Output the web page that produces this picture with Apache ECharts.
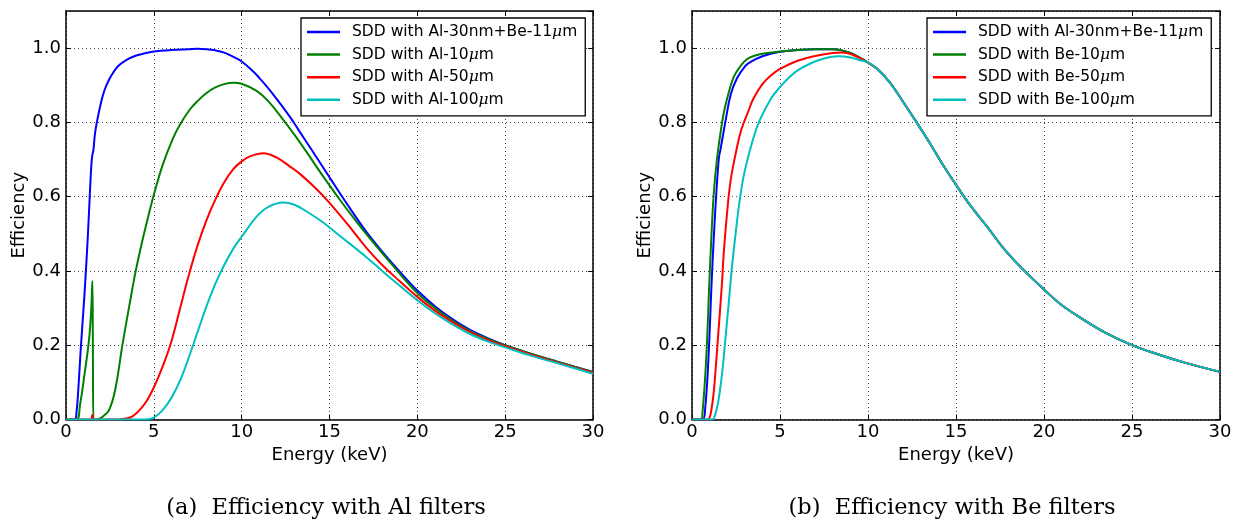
<!DOCTYPE html>
<html>
<head>
<meta charset="utf-8">
<script src="https://cdn.jsdelivr.net/npm/echarts@6/dist/echarts.min.js"></script>
<style>
html,body{margin:0;padding:0;background:#fff;}
#c{width:1239px;height:524px;}
</style>
</head>
<body>
<div id="c"></div>
<script>
// ---------- data ----------
const seriesNamesLeft = ['SDD with Al-30nm+Be-11μm','SDD with Al-10μm','SDD with Al-50μm','SDD with Al-100μm'];
const seriesNamesRight = ['SDD with Al-30nm+Be-11μm','SDD with Be-10μm','SDD with Be-50μm','SDD with Be-100μm'];
const xTicks = [0,5,10,15,20,25,30];
const yTicks = [0.0,0.2,0.4,0.6,0.8,1.0];
const captions = ['(a)  Efficiency with Al filters','(b)  Efficiency with Be filters'];

// Left panel
const leftBlueE = [0,0.5,0.6,0.7,0.84,1.0,1.12,1.25,1.35,1.45,1.5,1.56,1.65,1.78,2.0,2.2,2.45,2.7,3.0,3.43,4.0,4.5,5.0,6.0,7.0,7.5,8.0,8.5,9.0,9.5,10.0,10.66,11.0,11.8,12.75,13.3,14.0,15.0,16.0,17.1,18.0,19.0,20.0,21.0,22.0,23.0,24.0,25.0,26.0,27.0,28.0,29.0,30.0];
const leftBlueV = [0,0,0.02,0.08,0.19,0.30,0.39,0.50,0.60,0.69,0.712,0.725,0.77,0.806,0.855,0.888,0.915,0.935,0.953,0.968,0.98,0.986,0.991,0.995,0.997,0.998,0.997,0.994,0.988,0.977,0.964,0.937,0.92,0.875,0.815,0.775,0.725,0.652,0.58,0.505,0.452,0.398,0.347,0.305,0.27,0.241,0.219,0.2,0.184,0.169,0.155,0.141,0.128];

const leftGreenE = [0,0.6,0.8,1.06,1.31,1.44,1.5,1.53,1.56,1.7,1.9,2.1,2.45,2.8,3.21,3.6,3.97,4.35,4.7,5.0,5.5,6.09,6.5,7.04,7.5,8.0,8.5,9.0,9.52,10.0,10.85,11.5,12.37,13.0,13.7,14.5,15.6,16.5,17.5,18.5,20,21,22,23,24,25,26.5,28,30];
const leftGreenV = [0,0,0.04,0.124,0.214,0.30,0.373,0.2,0,0,0.002,0.008,0.025,0.08,0.2,0.305,0.4,0.482,0.55,0.605,0.685,0.757,0.795,0.834,0.858,0.879,0.894,0.903,0.907,0.904,0.885,0.858,0.807,0.767,0.72,0.664,0.591,0.535,0.476,0.42,0.34,0.3,0.266,0.238,0.217,0.199,0.176,0.155,0.127];

const leftRedE = [0,1.4,1.5,1.56,3.0,3.5,3.78,4.19,4.6,5.0,5.5,6.0,6.5,7.0,7.5,8.0,8.5,9.0,9.5,10.0,10.5,11.23,12.0,12.75,13.3,14.27,15.0,16.0,17.1,18.0,19.0,20.0,21.0,22.0,23.0,24.0,25.0,26.5,28.0,30.0];
const leftRedV = [0,0,0.012,0,0,0.003,0.008,0.025,0.05,0.086,0.142,0.21,0.30,0.39,0.47,0.537,0.592,0.638,0.673,0.695,0.709,0.717,0.705,0.681,0.662,0.62,0.583,0.527,0.462,0.416,0.372,0.33,0.293,0.262,0.235,0.214,0.197,0.174,0.153,0.126];

const leftCyanE = [0,4.5,5.0,5.5,6.0,6.5,7.0,7.5,8.0,8.5,9.0,9.5,10.0,10.85,11.5,12.37,13.0,13.7,14.5,15.0,15.6,17.1,18.0,19.0,20.0,21.0,22.0,23.0,24.0,25.0,26.5,28.0,30.0];
const leftCyanV = [0,0,0.005,0.025,0.058,0.105,0.168,0.237,0.305,0.365,0.415,0.458,0.492,0.546,0.572,0.584,0.578,0.56,0.535,0.517,0.494,0.437,0.4,0.36,0.321,0.286,0.256,0.23,0.21,0.194,0.171,0.151,0.123];

// Right panel (low-energy parts)
const rightBlueE = [0,0.6,0.75,0.93,1.12,1.25,1.37,1.5,1.56,1.6,1.89,2.2,2.55,3.0,3.31,4.0,5.0,6.0,7.0,8.0,8.5,9.0,9.5];
const rightBlueV = [0,0,0.03,0.16,0.374,0.5,0.6,0.69,0.715,0.722,0.80,0.875,0.918,0.95,0.962,0.978,0.99,0.995,0.997,0.997,0.994,0.987,0.975];
const rightGreenE = [0,0.5,0.6,0.8,0.99,1.1,1.22,1.35,1.5,1.79,2.0,2.36,2.7,3.12,3.6,4.0,5.0,6.0,7.0,8.0,8.5,9.0,9.5];
const rightGreenV = [0,0,0.02,0.157,0.373,0.49,0.597,0.67,0.732,0.822,0.865,0.921,0.948,0.97,0.98,0.985,0.991,0.995,0.997,0.997,0.994,0.987,0.975];
const rightRedE = [0,0.9,1.0,1.1,1.22,1.31,1.5,1.7,1.8,2.0,2.2,2.5,2.8,3.2,3.5,4.0,4.5,5.0,6.0,7.0,8.0,8.5,9.0,9.5];
const rightRedV = [0,0,0.005,0.025,0.067,0.115,0.235,0.365,0.445,0.56,0.645,0.72,0.78,0.83,0.865,0.903,0.927,0.944,0.966,0.979,0.987,0.988,0.984,0.974];
const rightCyanE = [0,1.15,1.3,1.5,1.7,1.79,2.0,2.08,2.27,2.5,2.74,3.0,3.5,3.89,4.5,5.0,5.5,6.0,6.7,7.5,8.3,9.0,9.5];
const rightCyanV = [0,0,0.01,0.05,0.12,0.16,0.27,0.31,0.41,0.51,0.6,0.67,0.76,0.81,0.865,0.895,0.92,0.94,0.958,0.972,0.978,0.975,0.968];
// Right panel: shared high-energy tail (all four curves coincide)
const rightTailE = [10.0,10.5,11.27,12.0,12.79,13.5,14.2,15.0,15.8,16.77,17.8,18.85,20.0,21.0,22.26,23.5,25.0,26.5,28.0,30.0];
const rightTailV = [0.961,0.945,0.906,0.855,0.798,0.745,0.69,0.632,0.577,0.519,0.455,0.402,0.35,0.308,0.268,0.233,0.2,0.175,0.153,0.128];

// ---------- chart ----------
const COLORS = ['#0000ff','#008000','#ff0000','#00bfbf'];
const pairs = (E, V) => E.map((e, i) => [e, V[i]]);
const withTail = (E, V) => pairs(E.concat(rightTailE), V.concat(rightTailV));

const leftData = [pairs(leftBlueE,leftBlueV), pairs(leftGreenE,leftGreenV), pairs(leftRedE,leftRedV), pairs(leftCyanE,leftCyanV)];
const rightData = [withTail(rightBlueE,rightBlueV), withTail(rightGreenE,rightGreenV), withTail(rightRedE,rightRedV), withTail(rightCyanE,rightCyanV)];

const FONT = 'DejaVu Sans';
const grids = [
  {left: 66, top: 11, width: 527, height: 408.4},
  {left: 692, top: 11, width: 528, height: 408.4}
];

const axisLineStyle = {color: '#000', width: 1.5};
function xAxes(gi) {
  const base = {
    type: 'value', gridIndex: gi, min: 0, max: 30, interval: 5,
    axisLine: {show: true, onZero: false, lineStyle: axisLineStyle},
    axisTick: {show: true, inside: true, length: 5, lineStyle: {color: '#000', width: 1}},
  };
  return [
    Object.assign({}, base, {
      position: 'bottom',
      name: 'Energy (keV)', nameLocation: 'middle', nameGap: 21,
      nameTextStyle: {fontFamily: FONT, fontSize: 18, color: '#000'},
      axisLabel: {show: true, margin: 4, fontFamily: FONT, fontSize: 18, color: '#000',
        formatter: v => xTicks.indexOf(v) >= 0 ? String(v) : ''},
      splitLine: {show: true, lineStyle: {color: '#444', width: 1, type: [1, 3]}}
    }),
    Object.assign({}, base, {position: 'top', axisLabel: {show: false}, splitLine: {show: false}})
  ];
}
function yAxes(gi) {
  const base = {
    type: 'value', gridIndex: gi, min: 0, max: 1.1, interval: 0.2,
    axisLine: {show: true, onZero: false, lineStyle: axisLineStyle},
    axisTick: {show: true, inside: true, length: 5, lineStyle: {color: '#000', width: 1}},
  };
  return [
    Object.assign({}, base, {
      position: 'left',
      name: 'Efficiency', nameLocation: 'middle', nameGap: 37,
      nameTextStyle: {fontFamily: FONT, fontSize: 18, color: '#000'},
      axisLabel: {show: true, margin: 5, fontFamily: FONT, fontSize: 18, color: '#000', showMaxLabel: false,
        formatter: v => yTicks.some(t => Math.abs(t - v) < 1e-6) ? v.toFixed(1) : ''},
      splitLine: {show: true, lineStyle: {color: '#444', width: 1, type: [1, 3]}}
    }),
    Object.assign({}, base, {position: 'right', axisLabel: {show: false}, splitLine: {show: false}})
  ];
}

const series = [];
leftData.forEach((d, i) => series.push({
  name: seriesNamesLeft[i], type: 'line', xAxisIndex: 0, yAxisIndex: 0, data: d,
  showSymbol: false, smooth: 0.4, clip: true,
  lineStyle: {color: COLORS[i], width: 2}, itemStyle: {color: COLORS[i]}, animation: false
}));
rightData.forEach((d, i) => series.push({
  name: seriesNamesRight[i], type: 'line', xAxisIndex: 2, yAxisIndex: 2, data: d,
  showSymbol: false, smooth: 0.4, clip: true,
  lineStyle: {color: COLORS[i], width: 2}, itemStyle: {color: COLORS[i]}, animation: false
}));

function legend(left, names) {
  return {
    show: true, orient: 'vertical', left: left, top: 18,
    data: names, icon: 'rect', itemWidth: 33, itemHeight: 2.5, itemGap: 6.6,
    padding: [6, 8, 8, 6], backgroundColor: '#fff', borderColor: '#000', borderWidth: 1.3, borderRadius: 0,
    selectedMode: false,
    formatter: n => n.replace('μm', '{mu|μ}m'),
    textStyle: {fontFamily: FONT, fontSize: 15.5, color: '#000', lineHeight: 16, padding: [0, 0, 0, 7],
      rich: {mu: {fontFamily: 'DejaVu Serif', fontStyle: 'italic', fontSize: 15.5, color: '#000', lineHeight: 16}}}
  };
}

const option = {
  backgroundColor: '#fff',
  animation: false,
  grid: grids,
  xAxis: xAxes(0).concat(xAxes(1)),
  yAxis: yAxes(0).concat(yAxes(1)),
  legend: [legend(301, seriesNamesLeft), legend(927, seriesNamesRight)],
  series: series,
  graphic: [
    {type: 'text', x: 326, y: 508, style: {text: captions[0], fontFamily: 'DejaVu Serif', fontSize: 22.5, fill: '#000', align: 'center', verticalAlign: 'middle'}},
    {type: 'text', x: 952, y: 508, style: {text: captions[1], fontFamily: 'DejaVu Serif', fontSize: 22.5, fill: '#000', align: 'center', verticalAlign: 'middle'}}
  ]
};

const chart = echarts.init(document.getElementById('c'), null, {renderer: 'canvas'});
chart.setOption(option);
</script>
</body>
</html>
